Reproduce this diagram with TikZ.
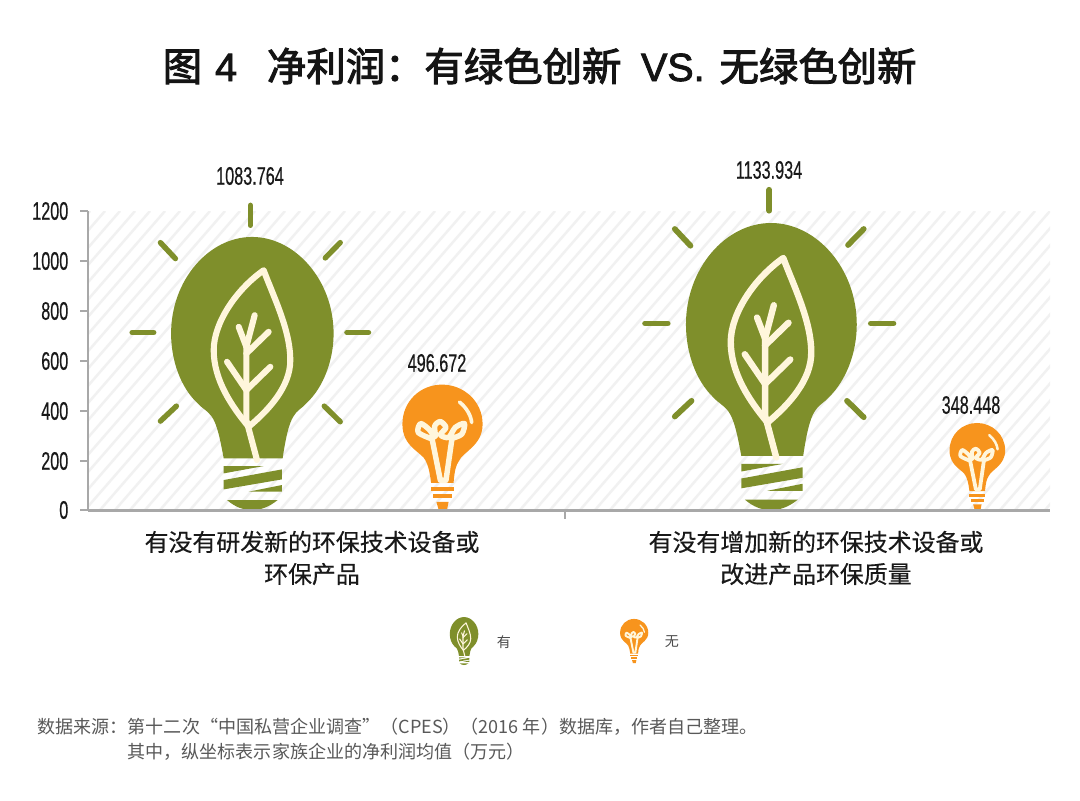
\documentclass[tikz,border=0pt]{standalone}
\usepackage{fontspec}
\setmainfont{Noto Sans CJK SC}
\newfontfamily\numfont[FakeStretch=0.64,FakeBold=0.4]{Liberation Sans}
\newfontfamily\titlefont[FakeBold=2.6]{Noto Sans CJK SC}
\newfontfamily\titlelatin[FakeBold=2.2]{Liberation Sans}
\newfontfamily\catfont[FakeBold=0.3]{Noto Sans CJK SC}
\definecolor{leafgreen}{HTML}{7F8F2B}
\definecolor{bulborange}{HTML}{F7941D}
\definecolor{filcream}{HTML}{FFF6DC}
\definecolor{axisgray}{HTML}{A8A8A8}
\definecolor{hatchgray}{HTML}{F1F1F1}
\begin{document}
\begin{tikzpicture}[x=0.01cm,y=-0.01cm]

    \tikzset{
      ticklabel/.style={font=\numfont\fontsize{7.2}{8}\selectfont,color=black!90,anchor=east,inner sep=0pt},
      vallabel/.style={font=\numfont\fontsize{7.2}{8}\selectfont,color=black!90,inner sep=0pt},
      catlabel/.style={font=\catfont\fontsize{6.8}{9.1}\selectfont,color=black!90,align=center,inner sep=0pt},
      legendlabel/.style={font=\fontsize{4}{5}\selectfont,color=black!70,inner sep=0pt},
      footlabel/.style={font=\fontsize{5.13}{6}\selectfont,color=black!65,anchor=west,inner sep=0pt},
      leafline/.style={draw=filcream,line width=5.2pt*#1,line cap=round,line join=round},
      rayline/.style={draw=leafgreen,line width=4.6pt*#1,line cap=round},
      greenbulb/.pic={
        \begin{scope}[yscale=-1,scale=#1]
          \fill[leafgreen] (-85,155) .. controls (-95,210) and (-105,260) .. (-122,282) .. controls (-135,300) and (-150,305) .. (-165,322) .. controls (-215,370) and (-243,450) .. (-243,530) .. controls (-243,690) and (-130,820) .. (0,820) .. controls (130,820) and (245,690) .. (245,530) .. controls (245,450) and (215,370) .. (165,322) .. controls (150,305) and (135,300) .. (125,282) .. controls (110,260) and (100,210) .. (92,155) -- cycle;
          \draw[leafline=#1] (35,720) .. controls (-50,660) and (-115,560) .. (-115,480) .. controls (-115,390) and (-60,310) .. (-10,250) .. controls (50,300) and (115,370) .. (115,450) .. controls (115,540) and (65,640) .. (35,720) -- cycle;
          \draw[leafline=#1] (8,585) -- (-17,490) -- (-17,270) -- (15,150);
          \draw[leafline=#1] (-40,550) -- (-17,490);
          \draw[leafline=#1] (50,535) -- (-17,470);
          \draw[leafline=#1] (-75,445) -- (-17,360) -- (55,430);
          \fill[leafgreen] (-85,132) -- (35,132) -- (-85,110) -- cycle;
          \fill[leafgreen] (90,122) -- (90,92) -- (-85,62) -- (-85,90) -- cycle;
          \fill[leafgreen] (90,75) -- (90,55) -- (-10,55) -- cycle;
          \fill[leafgreen] (-75,30) -- (77,30) .. controls (50,8) and (25,0) .. (0,0) .. controls (-25,0) and (-50,8) .. (-75,30) -- cycle;
        \end{scope}
      },
      bulbrays/.pic={
        \begin{scope}[yscale=-1,scale=#1]
          \draw[rayline=#1] (-5,915) -- (-5,855);
          \draw[rayline=#1] (220,757) -- (265,803);
          \draw[rayline=#1] (-275,803) -- (-230,755);
          \draw[rayline=#1] (-360,533) -- (-295,533);
          \draw[rayline=#1] (285,533) -- (350,533);
          \draw[rayline=#1] (-275,267) -- (-227,312);
          \draw[rayline=#1] (217,312) -- (265,265);
        \end{scope}
      },
      orangebulb/.pic={
        \begin{scope}[yscale=-1,scale=#1]
          \fill[bulborange] (-33,82) .. controls (-38,120) and (-42,135) .. (-50,150) .. controls (-60,175) and (-120,190) .. (-120,260) .. controls (-120,330) and (-65,380) .. (0,380) .. controls (65,380) and (123,330) .. (123,260) .. controls (123,195) and (62,175) .. (52,150) .. controls (42,135) and (38,120) .. (35,82) -- cycle;
          \draw[leafline=#1*0.9] (-30,215) -- (-5,90) -- (12,90) -- (30,215);
          \draw[leafline=#1*0.9] plot[smooth] coordinates {(-30,215) (-72,235) (-65,262) (-40,245) (-25,225) (-20,225) (-22,255) (-5,268) (12,250) (-5,228) (20,220) (40,250) (68,262) (60,230) (30,217)};
          \draw[leafline=#1*0.6] (53,327) .. controls (75,310) and (88,285) .. (90,265);
          \fill[bulborange] (-33,70) -- (35,70) -- (35,58) -- (-33,58) -- cycle;
          \fill[bulborange] (-27,50) -- (30,50) -- (30,37) -- (-27,37) -- cycle;
          \fill[bulborange] (-17,25) -- (20,25) -- (15,0) -- (-10,0) -- cycle;
        \end{scope}
      },
    }
    \useasboundingbox (0,0) rectangle (1080,800);
    \fill[white] (0,0) rectangle (1080,800);

    \begin{scope}
      \clip (88,211) rectangle (1050,510);
      \foreach \k in {0,15,...,1410} {
        \draw[hatchgray,line width=0.7pt] (\k-260,510) -- (\k,211);
      }
    \end{scope}

    \node[font=\titlefont\fontsize{11.2}{12}\selectfont,color=black!92,inner sep=0pt,anchor=west] (title) at (162,66) {图\hspace{.33em}{\titlelatin 4}\hspace{.76em}净利润：有绿色创新\hspace{.5em}{\titlelatin VS.}\hspace{.38em}无绿色创新};

    \draw[axisgray,line width=0.35pt] (88,211) -- (88,510);
    \foreach \v/\yy in {0/510,200/461,400/411,600/361,800/311,1000/261,1200/211} {
      \draw[axisgray,line width=0.35pt] (80,\yy) -- (88,\yy);
      \node[ticklabel] (tick\v) at (69,\yy) {\v};
    }
    \draw[axisgray,line width=0.35pt] (565,510) -- (565,519);

    \pic (rays1) at (252,510) {bulbrays=0.333};
    \pic (green1) at (252,510) {greenbulb=0.333};
    \pic (rays2) at (771,510) {bulbrays=0.35};
    \pic (green2) at (771,510) {greenbulb=0.35};
    \pic (orange1) at (442,510) {orangebulb=0.33};
    \pic (orange2) at (977,510) {orangebulb=0.229};
    \draw[axisgray,line width=0.85pt] (88,510) -- (1050,510);

    \node[vallabel] (val1) at (250,176) {1083.764};
    \node[vallabel] (val2) at (437,363) {496.672};
    \node[vallabel] (val3) at (769,170) {1133.934};
    \node[vallabel] (val4) at (971,405) {348.448};

    \node[catlabel] (cat1) at (312,558) {有没有研发新的环保技术设备或\\环保产品};
    \node[catlabel] (cat2) at (816,558) {有没有增加新的环保技术设备或\\改进产品环保质量};

    \pic (legend1) at (464,665) {greenbulb=0.0585};
    \pic (legend2) at (634,663) {orangebulb=0.116};
    \node[legendlabel] (leg1) at (504,642) {有};
    \node[legendlabel] (leg2) at (672,642) {无};

    \node[footlabel] (foot1) at (37,727) {数据来源：第十二次“中国私营企业调查”（CPES）（2016 年）数据库，作者自己整理。};
    \node[footlabel] (foot2) at (127,752) {其中，纵坐标表示家族企业的净利润均值（万元）};

\end{tikzpicture}
\end{document}
